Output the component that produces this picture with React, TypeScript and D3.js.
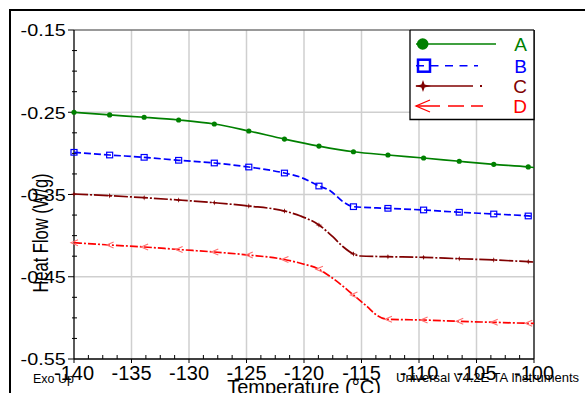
import { useEffect, useRef } from 'react';
import * as d3 from 'd3';

type Pt = [number, number];

// temperatures (°C) where the instrument drew its symbols
const markerTemps = [-140, -136.9, -133.9, -130.9, -127.8, -124.8, -121.7, -118.7, -115.7, -112.7, -109.6, -106.5, -103.5, -100.5];

const seriesA: Pt[] = [
  [-140, -0.25], [-136.9, -0.2533], [-133.9, -0.2561], [-130.9, -0.2594], [-127.8, -0.2643],
  [-124.8, -0.2728], [-121.7, -0.2826], [-118.7, -0.2911], [-115.7, -0.298], [-112.7, -0.302],
  [-109.6, -0.3056], [-106.5, -0.3096], [-103.5, -0.3133], [-100.5, -0.3165], [-100, -0.3172],
];
const seriesB: Pt[] = [
  [-140, -0.2987], [-136.9, -0.302], [-133.9, -0.3048], [-130.9, -0.3084], [-127.8, -0.3117],
  [-124.8, -0.3166], [-121.7, -0.3239], [-120.3, -0.329], [-118.7, -0.3397], [-117.7, -0.3457],
  [-116.6, -0.3588], [-115.7, -0.3648], [-112.7, -0.3668], [-109.6, -0.3688], [-106.5, -0.3716],
  [-103.5, -0.3737], [-100.5, -0.3761], [-100, -0.3767],
];
const seriesC: Pt[] = [
  [-140, -0.3494], [-136.9, -0.3515], [-133.9, -0.3539], [-130.9, -0.3567], [-127.8, -0.36],
  [-124.8, -0.364], [-121.7, -0.3701], [-120.3, -0.3761], [-118.7, -0.3871], [-117.5, -0.4013],
  [-116.6, -0.4135], [-115.7, -0.4223], [-115.1, -0.4248], [-112.7, -0.4256], [-109.6, -0.4264],
  [-106.5, -0.4281], [-103.5, -0.4296], [-100.5, -0.4317], [-100, -0.4321],
];
const seriesD: Pt[] = [
  [-140, -0.4086], [-136.9, -0.4114], [-133.9, -0.4138], [-130.9, -0.4169], [-127.8, -0.4199],
  [-124.8, -0.4236], [-121.7, -0.429], [-120.3, -0.4336], [-118.7, -0.4409], [-117.5, -0.4519],
  [-115.7, -0.4722], [-114.5, -0.4864], [-113.7, -0.4965], [-112.7, -0.5017], [-109.6, -0.5026],
  [-106.5, -0.5042], [-103.5, -0.5054], [-100.5, -0.5066], [-100, -0.5068],
];

const seriesNames = ['A', 'B', 'C', 'D'];
const xTicks = [-140, -135, -130, -125, -120, -115, -110, -105, -100];
const yTicks = [-0.15, -0.25, -0.35, -0.45, -0.55];

const FONT = '"Liberation Sans", Arial, sans-serif';
const STAR = 'M-8,0 L-1.6,-1.4 L0,-6 L1.6,-1.4 L8,0 L1.6,1.4 L0,6 L-1.6,1.4 Z';
// plain hyphen-minus like the instrument software, not d3's U+2212
const fmtY = (v: number) => d3.format('.2f')(v).replace('\u2212', '-');

export default function App() {
  const svgRef = useRef<SVGSVGElement>(null);

  useEffect(() => {
    if (!svgRef.current) return;
    const svg = d3.select(svgRef.current);
    svg.selectAll('*').remove();

    const x = d3.scaleLinear().domain([-140, -100]).range([74, 534]);
    const y = d3.scaleLinear().domain([-0.55, -0.15]).range([359, 30]);

    // outer frame
    svg.append('path').attr('d', 'M10,393 L10,10 L585,10')
      .attr('fill', 'none').attr('stroke', '#000').attr('stroke-width', 2);

    // grid
    const grid = svg.append('g').attr('stroke', '#cfcfcf').attr('stroke-width', 1.5);
    xTicks.slice(1, -1).forEach(t => grid.append('line')
      .attr('x1', x(t)).attr('x2', x(t)).attr('y1', y(-0.15)).attr('y2', y(-0.55)));
    yTicks.slice(1, -1).forEach(t => grid.append('line')
      .attr('x1', x(-140)).attr('x2', x(-100)).attr('y1', y(t)).attr('y2', y(t)));
    svg.append('line').attr('x1', x(-140)).attr('x2', x(-100)).attr('y1', y(-0.15)).attr('y2', y(-0.15))
      .attr('stroke', '#777').attr('stroke-width', 1.5);

    // axes
    const ax = svg.append('g').attr('stroke', '#000').attr('stroke-width', 1.3);
    ax.append('line').attr('x1', x(-140)).attr('x2', x(-140)).attr('y1', y(-0.15)).attr('y2', y(-0.55));
    ax.append('line').attr('x1', x(-100)).attr('x2', x(-100)).attr('y1', y(-0.15)).attr('y2', y(-0.55));
    ax.append('line').attr('x1', x(-140)).attr('x2', x(-100)).attr('y1', y(-0.55)).attr('y2', y(-0.55));
    d3.range(-140, -99.99, 1.25).forEach(t => {
      const major = Math.abs(t / 5 - Math.round(t / 5)) < 1e-6;
      ax.append('line').attr('x1', x(t)).attr('x2', x(t))
        .attr('y1', y(-0.55) + (major ? 4 : 0)).attr('y2', y(-0.55) - (major ? 0 : 4))
        .attr('stroke-width', 1);
    });
    d3.range(-0.55, -0.1499, 0.025).forEach(t => {
      const major = Math.abs(t * 10 - 0.5 - Math.round(t * 10 - 0.5)) < 1e-6;
      ax.append('line').attr('x1', x(-140) - (major ? 6 : 2)).attr('x2', x(-140) + (major ? 0 : 3))
        .attr('y1', y(t)).attr('y2', y(t)).attr('stroke-width', 1);
    });

    // tick labels
    svg.append('g').selectAll('text').data(yTicks).enter().append('text')
      .attr('transform', d => `translate(65.7,${y(d)}) scale(1.2,1)`)
      .attr('text-anchor', 'end').attr('dy', '0.38em')
      .attr('font-family', FONT).attr('font-size', 16.5).attr('fill', '#000')
      .text(d => fmtY(d));
    svg.append('g').selectAll('text').data(xTicks).enter().append('text')
      .attr('x', d => x(d)).attr('y', 380)
      .attr('text-anchor', 'middle')
      .attr('font-family', FONT).attr('font-size', 20).attr('fill', '#000')
      .text(d => String(d));

    // titles
    svg.append('text').attr('transform', 'translate(48,233) scale(1.3,1) rotate(-90)')
      .attr('text-anchor', 'middle').attr('font-family', FONT).attr('font-size', 16.5)
      .text('Heat Flow (W/g)');
    svg.append('text').attr('x', (x(-140) + x(-100)) / 2).attr('y', 393.5)
      .attr('text-anchor', 'middle').attr('font-family', FONT).attr('font-size', 20)
      .text('Temperature (°C)');
    svg.append('text').attr('x', 33).attr('y', 383)
      .attr('font-family', FONT).attr('font-size', 12.5).text('Exo Up');
    svg.append('text').attr('x', 396).attr('y', 382)
      .attr('font-family', FONT).attr('font-size', 13).text('Universal V4.2E TA Instruments');

    // curves
    const line = d3.line<Pt>().x(d => x(d[0])).y(d => y(d[1])).curve(d3.curveMonotoneX);
    const styles = [
      { data: seriesA, color: '#008000', dash: null },
      { data: seriesB, color: '#0000ff', dash: '7,3' },
      { data: seriesC, color: '#800000', dash: '14,2,2,2' },
      { data: seriesD, color: '#ff0000', dash: '8,2,2,2' },
    ];
    styles.forEach((s, i) => {
      svg.append('path').datum(s.data).attr('d', line)
        .attr('fill', 'none').attr('stroke', s.color).attr('stroke-width', 1.7)
        .attr('stroke-dasharray', s.dash);
      const pts = s.data.filter(d => markerTemps.includes(d[0]));
      const g = svg.append('g');
      pts.forEach(d => {
        const px = x(d[0]), py = y(d[1]);
        if (i === 0) g.append('circle').attr('cx', px).attr('cy', py).attr('r', 2.6).attr('fill', s.color);
        if (i === 1) g.append('rect').attr('x', px - 3).attr('y', py - 2.8).attr('width', 6).attr('height', 5.6)
          .attr('fill', 'none').attr('stroke', s.color).attr('stroke-width', 1.2);
        if (i === 2) g.append('path').attr('d', STAR).attr('transform', `translate(${px},${py}) scale(0.45)`)
          .attr('fill', s.color);
        if (i === 3) g.append('path').attr('d', `M${px + 4},${py - 3} L${px - 3},${py} L${px + 4},${py + 3}`)
          .attr('fill', 'none').attr('stroke', '#ff7070').attr('stroke-width', 1.1);
      });
    });

    // legend
    const lg = svg.append('g');
    lg.append('rect').attr('x', 410).attr('y', 30).attr('width', 124).attr('height', 89.5).attr('fill', '#fff');
    lg.append('line').attr('x1', 410).attr('x2', 534).attr('y1', 30).attr('y2', 30)
      .attr('stroke', '#666').attr('stroke-width', 2);
    lg.append('path').attr('d', 'M410,30 L410,119.5 L534,119.5 L534,30')
      .attr('fill', 'none').attr('stroke', '#000').attr('stroke-width', 1.3);
    const rows = [44, 65.7, 86, 106];
    // A
    lg.append('line').attr('x1', 416).attr('x2', 496).attr('y1', rows[0]).attr('y2', rows[0])
      .attr('stroke', styles[0].color).attr('stroke-width', 1.5);
    lg.append('circle').attr('cx', 422.7).attr('cy', rows[0]).attr('r', 5.8).attr('fill', styles[0].color);
    // B
    lg.append('line').attr('x1', 416).attr('x2', 478).attr('y1', rows[1]).attr('y2', rows[1])
      .attr('stroke', styles[1].color).attr('stroke-width', 1.5).attr('stroke-dasharray', '8,6.5');
    lg.append('rect').attr('x', 418).attr('y', rows[1] - 6).attr('width', 12).attr('height', 12)
      .attr('fill', 'none').attr('stroke', styles[1].color).attr('stroke-width', 2.5);
    // C
    lg.append('line').attr('x1', 416).attr('x2', 473).attr('y1', rows[2]).attr('y2', rows[2])
      .attr('stroke', styles[2].color).attr('stroke-width', 1.5);
    lg.append('rect').attr('x', 480).attr('y', rows[2] - 1).attr('width', 2).attr('height', 2).attr('fill', styles[2].color);
    lg.append('path').attr('d', STAR).attr('transform', `translate(423,${rows[2]})`).attr('fill', styles[2].color);
    // D
    lg.append('line').attr('x1', 416).attr('x2', 483).attr('y1', rows[3]).attr('y2', rows[3])
      .attr('stroke', styles[3].color).attr('stroke-width', 1.5).attr('stroke-dasharray', '24,8,16,7,12');
    lg.append('path').attr('d', `M430,${rows[3] - 6} L416,${rows[3]} L430,${rows[3] + 6}`)
      .attr('fill', 'none').attr('stroke', styles[3].color).attr('stroke-width', 1.3);
    lg.selectAll('text.lab').data(seriesNames).enter().append('text')
      .attr('x', 527).attr('y', (_, i) => rows[i]).attr('dy', '0.36em')
      .attr('text-anchor', 'end').attr('font-family', FONT).attr('font-size', 19)
      .attr('fill', (_, i) => styles[i].color)
      .text(d => d);
  }, []);

  return (
    <svg ref={svgRef} width={585} height={393}
      style={{ position: 'absolute', left: 0, top: 0, background: '#fff' }} />
  );
}
